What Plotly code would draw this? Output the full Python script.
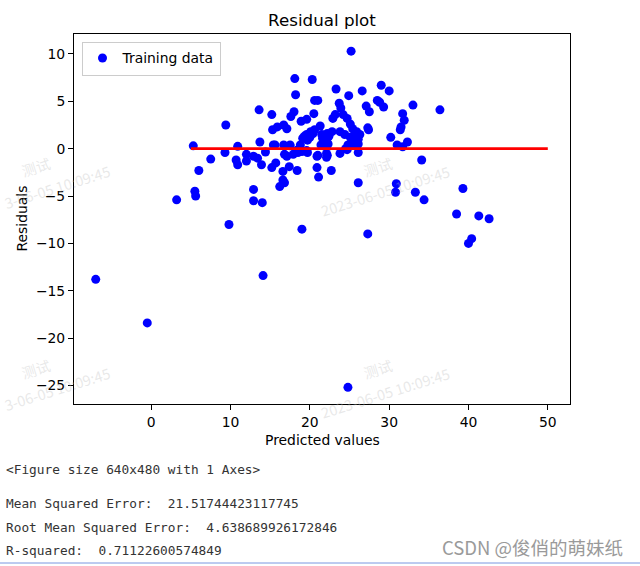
import plotly.graph_objects as go

# ---- data ----
predicted = [
    -7.0, -0.5, 3.2, 5.5, 5.6, 5.3, 9.4, 7.5, 6.0, 9.8,
    10.9, 9.3, 10.7, 10.9, 12.0, 12.0, 12.9, 13.4, 13.9, 13.7,
    13.6, 15.2, 15.6, 14.4, 15.3, 15.9, 16.7, 17.1, 18.1, 20.3,
    18.2, 20.6, 21.0, 17.6, 18.0, 18.9, 19.6, 20.5, 15.2, 15.7,
    16.6, 16.2, 16.8, 16.6, 17.4, 18.4, 16.7, 17.5, 18.4, 19.0,
    19.6, 19.1, 19.6, 20.1, 20.9, 21.1, 21.0, 21.4, 25.2, 23.3,
    24.9, 26.6, 29.0, 30.0, 28.5, 28.8, 29.3, 33.0, 27.1, 27.5,
    31.7, 31.9, 31.5, 30.2, 31.0, 31.7, 32.3, 27.3, 23.7, 23.9,
    23.2, 22.9, 24.2, 24.7, 25.1, 25.4, 25.9, 25.7, 26.1, 25.1,
    25.4, 24.7, 26.1, 34.1, 26.1, 30.9, 30.8, 33.3, 34.4, 39.3,
    38.5, 41.3, 42.6, 40.0, 40.4, 36.4, 19.0, 27.3, 14.1, 24.8,
    12.9, 12.9, 14.0, 21.5, 22.2, 22.8, 23.8, 24.4, 22.3, 21.7,
    22.2, 22.7, 23.8, 24.7, 21.3, 20.6, 20.4, 20.0, 18.5, 17.1,
    17.9, 16.8, 17.5, 18.8, 19.7, 19.3, 20.1, 18.5, 19.7, 20.9,
    22.1, 22.1, 15.4, 22.2, 22.4, 21.6, 24.8, 25.2, 25.7, 26.3,
    26.1, 24.5, 27.4, 31.4,
]
residuals = [
    -13.8, -18.4, -5.4, -4.5, -5.0, 0.3, 2.5, -1.1, -2.3, -8.0,
    0.25, -0.4, -1.2, -1.7, -0.6, -1.3, -0.8, -1.0, -1.7, 0.7,
    4.1, 3.6, 0.4, -0.35, 2.0, 2.3, 2.5, 2.1, 7.4, 7.3,
    5.7, 5.1, 5.1, 3.4, 3.9, 2.9, 3.1, 3.7, -2.0, -1.5,
    -2.4, -4.0, -3.6, -3.3, -1.9, -2.3, 0.4, 0.4, -0.2, -0.3,
    -0.2, 1.1, 1.5, 1.8, -2.0, -3.0, -0.7, 0.4, 10.3, 6.3,
    5.6, 6.1, 6.7, 6.1, 5.1, 4.9, 4.4, 4.6, 4.5, 3.9,
    3.7, 3.0, 2.3, 1.2, 0.4, 0.2, 0.7, 2.2, 4.8, 4.3,
    3.6, 3.2, 3.6, 3.2, 2.6, 2.1, 1.8, 1.1, 0.5, 1.2,
    0.4, 0.0, -0.4, -1.2, -3.6, -3.7, -4.6, -4.6, -5.4, -4.2,
    -6.9, -7.1, -7.4, -10.0, -9.5, 4.1, -8.5, -9.0, -13.4, -25.2,
    -4.3, -5.5, -5.7, 1.5, 1.6, 1.8, 1.8, 1.5, 0.5, 0.4,
    -0.7, -2.3, -0.5, -0.1, 2.4, 2.0, 1.6, 1.2, -0.1, -0.8,
    -0.6, -0.6, 0.3, 0.4, 0.9, 1.3, 1.7, -0.4, -0.4, -0.8,
    -0.9, -0.5, 0.4, 0.6, 1.3, 1.1, 0.4, 1.2, 0.5, 1.5,
    1.0, 0.0, 2.0, 2.0,
]
zero_line_x = [5, 50]
zero_line_y = [0, 0]
x_ticks = [0, 10, 20, 30, 40, 50]
y_ticks = [10, 5, 0, -5, -10, -15, -20, -25]

output_lines = [
    "<Figure size 640x480 with 1 Axes>",
    "Mean Squared Error:  21.51744423117745",
    "Root Mean Squared Error:  4.638689926172846",
    "R-squared:  0.71122600574849",
]
watermark_top = "测试"
watermark_full = "2023-06-05 10:09:45"
watermark_left = "3-06-05 10:09:45"
credit = "CSDN @俊俏的萌妹纸"

# ---- geometry helpers (pixel -> paper) ----
L, R, T, B = 74, 570, 34, 404
W, H = 640, 566


def px(xp):
    return (xp - L) / (R - L)


def py(yp):
    return (B - yp) / (B - T)


fig = go.Figure()
fig.add_trace(go.Scatter(
    x=predicted, y=residuals, mode="markers", name="Training data",
    marker=dict(color="#0000ff", size=9, line=dict(width=0)),
))
fig.add_trace(go.Scatter(
    x=zero_line_x, y=zero_line_y, mode="lines", showlegend=False,
    line=dict(color="#ff0000", width=2.8),
))

font_main = "DejaVu Sans"
annotations = []
# axis labels
annotations.append(dict(text="Predicted values", x=px(322), y=py(440), xref="paper", yref="paper",
                        showarrow=False, xanchor="center", yanchor="middle",
                        font=dict(family=font_main, size=13.9, color="black")))
annotations.append(dict(text="Residuals", x=px(21.5), y=0.5, xref="paper", yref="paper",
                        showarrow=False, xanchor="center", yanchor="middle", textangle=-90,
                        font=dict(family=font_main, size=13.9, color="black")))
# notebook output text
for txt, yy in zip(output_lines, [469, 503, 527, 550]):
    annotations.append(dict(text=txt.replace("<", "&lt;").replace(">", "&gt;"), x=px(4), y=py(yy),
                            xref="paper", yref="paper", showarrow=False,
                            xanchor="left", yanchor="middle",
                            font=dict(family="DejaVu Sans Mono", size=12.8, color="#333333")))
# watermarks
wm_color = "rgba(190,190,190,0.35)"
wm_font = dict(family="Noto Sans CJK SC", size=14.5, color=wm_color)
for cy in [190, 392]:
    annotations.append(dict(text=watermark_full, x=px(385), y=py(cy), xref="paper", yref="paper",
                            showarrow=False, xanchor="center", yanchor="middle", textangle=-17.5,
                            font=wm_font))
    annotations.append(dict(text=watermark_top, x=px(378), y=py(cy - 24), xref="paper", yref="paper",
                            showarrow=False, xanchor="center", yanchor="middle", textangle=-17.5,
                            font=wm_font))
    annotations.append(dict(text=watermark_left, x=px(57), y=py(cy - 4), xref="paper", yref="paper",
                            showarrow=False, xanchor="center", yanchor="middle", textangle=-17.5,
                            font=wm_font))
    annotations.append(dict(text=watermark_top, x=px(36), y=py(cy - 24), xref="paper", yref="paper",
                            showarrow=False, xanchor="center", yanchor="middle", textangle=-17.5,
                            font=wm_font))
annotations.append(dict(text=credit, x=px(625), y=py(547), xref="paper", yref="paper",
                        showarrow=False, xanchor="right", yanchor="middle",
                        font=dict(family="Noto Sans CJK SC", size=18.5, color="#9a9a9a")))

fig.update_layout(
    width=W, height=H,
    margin=dict(l=L, r=W - R, t=T, b=H - B, pad=0),
    paper_bgcolor="white", plot_bgcolor="white",
    title=dict(text="Residual plot", x=px(322), xref="paper", xanchor="center",
               y=1 - 20 / H, yref="container", yanchor="middle",
               font=dict(family=font_main, size=16.7, color="black")),
    font=dict(family=font_main, size=13.9, color="black"),
    showlegend=True,
    legend=dict(x=px(81.5), y=py(41.5), xanchor="left", yanchor="top",
                bgcolor="rgba(255,255,255,0.8)", bordercolor="#cccccc", borderwidth=1,
                font=dict(family=font_main, size=13.9, color="black"),
                itemsizing="trace"),
    annotations=annotations,
    shapes=[dict(type="line", xref="paper", yref="paper", x0=px(0), x1=px(640),
                 y0=py(563), y1=py(563), line=dict(color="#7a96e0", width=1))],
)
fig.update_xaxes(range=[-9.74, 52.8], tickvals=x_ticks, ticktext=[str(v) for v in x_ticks],
                 showgrid=False, zeroline=False, showline=True, mirror=True,
                 linecolor="black", linewidth=1, ticks="outside", ticklen=5, tickwidth=1,
                 tickcolor="black", tickfont=dict(family=font_main, size=13.9, color="black"))
fig.update_yaxes(range=[-26.96, 12.11], tickvals=y_ticks,
                 ticktext=[str(v).replace("-", "\u2212") for v in y_ticks],
                 showgrid=False, zeroline=False, showline=True, mirror=True,
                 linecolor="black", linewidth=1, ticks="outside", ticklen=5, tickwidth=1,
                 tickcolor="black", tickfont=dict(family=font_main, size=13.9, color="black"))

fig.write_html("out.html")
